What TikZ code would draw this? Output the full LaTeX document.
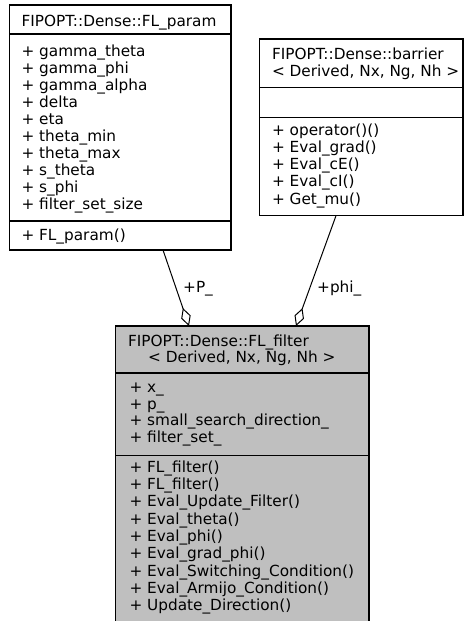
\documentclass[tikz,border=0pt]{standalone}
\usepackage{fontspec}
\setmainfont{DejaVu Sans}
\usetikzlibrary{arrows.meta}
\definecolor{filtergray}{RGB}{191,191,191}
\begin{document}
\begin{tikzpicture}[x=1pt,y=-1pt,
  box/.style={draw=black,line width=1.2pt,inner sep=0pt,outer sep=0pt,anchor=north west},
  sep/.style={draw=black,line width=1.2pt},
  txt/.style={inner sep=0pt,anchor=base west,font=\fontsize{15.3pt}{17pt}\selectfont},
  agg/.style={draw=black,line width=1pt,-{Diamond[open,length=19pt,width=10pt]}},
  lbl/.style={inner sep=0pt,anchor=base west,font=\fontsize{15.3pt}{17pt}\selectfont}]
\useasboundingbox (0,0) rectangle (464,621);

% ---------- FL_param ----------
\node[box,minimum width=221.7pt,minimum height=245pt] (param) at (9.3,5) {};
\draw[sep] (9.3,34) -- (231,34);
\draw[sep] (9.3,221) -- (231,221);
\node[txt] (paramtitle) at (21.3,26.5) {FIPOPT::Dense::FL\_param};
\foreach \t [count=\i] in {gamma\_theta,gamma\_phi,gamma\_alpha,delta,eta,theta\_min,theta\_max,s\_theta,s\_phi,filter\_set\_size}
  \node[txt] (pa\i) at (21.3,{56+(\i-1)*17.1}) {+ \t};
\node[txt] (pm1) at (21.3,240) {+ FL\_param()};

% ---------- barrier ----------
\node[box,minimum width=203.7pt,minimum height=176.7pt] (barrier) at (259.3,39) {};
\draw[sep] (259.3,87.7) -- (463,87.7);
\draw[sep] (259.3,117.7) -- (463,117.7);
\node[txt] (bt1) at (271.8,59.5) {FIPOPT::Dense::barrier};
\node[txt] (bt2) at (271.8,76) {< Derived, Nx, Ng, Nh >};
\foreach \t [count=\i] in {operator()(),Eval\_grad(),Eval\_cE(),Eval\_cI(),Get\_mu()}
  \node[txt] (bm\i) at (271.8,{135+(\i-1)*17.3}) {+ \t};

% ---------- FL_filter ----------
\node[box,fill=filtergray,minimum width=253.3pt,minimum height=300pt] (filter) at (115.7,326) {};
\draw[sep] (115.7,373) -- (369,373);
\draw[sep] (115.7,455.7) -- (369,455.7);
\node[txt] (ft1) at (127.8,346) {FIPOPT::Dense::FL\_filter};
\node[txt] (ft2) at (148,362.7) {< Derived, Nx, Ng, Nh >};
\foreach \t [count=\i] in {x\_,p\_,small\_search\_direction\_,filter\_set\_}
  \node[txt] (fa\i) at (129.3,{392.5+(\i-1)*16.7}) {+ \t};
\foreach \t [count=\i] in {FL\_filter(),FL\_filter(),Eval\_Update\_Filter(),Eval\_theta(),Eval\_phi(),Eval\_grad\_phi(),Eval\_Switching\_Condition(),Eval\_Armijo\_Condition(),Update\_Direction()}
  \node[txt] (fm\i) at (129.3,{472.3+(\i-1)*17.3}) {+ \t};

% ---------- connectors ----------
\coordinate (paramout) at (163,250);
\coordinate (filterinP) at (189,326);
\coordinate (barrierout) at (336,215.7);
\coordinate (filterinphi) at (296,326);
\draw[agg] (paramout) -- (filterinP);
\draw[agg] (barrierout) -- (filterinphi);
\node[lbl] (lblP) at (183,292) {+P\_};
\node[lbl] (lblphi) at (317,292.5) {+phi\_};
\end{tikzpicture}
\end{document}
